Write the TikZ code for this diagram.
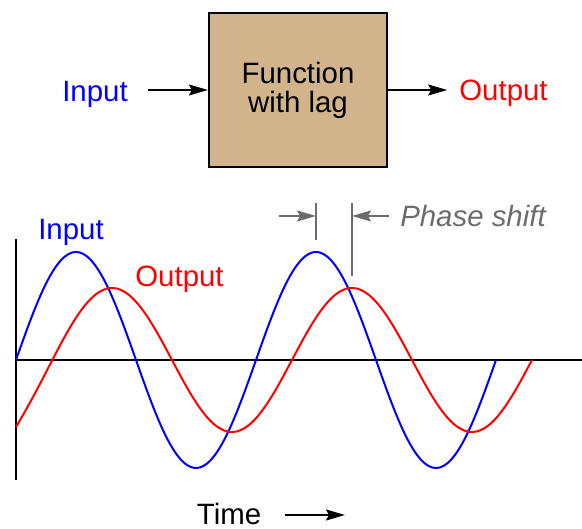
\documentclass[tikz,border=0pt]{standalone}
\usepackage{fontspec}
\setmainfont{Liberation Sans}
\usetikzlibrary{arrows.meta,positioning,calc}
\definecolor{boxtan}{RGB}{210,180,140}
\definecolor{shiftgray}{RGB}{108,108,108}

\begin{document}
\begin{tikzpicture}[x=1pt, y=1pt,
  lbl/.style={font=\fontsize{29.4}{29}\selectfont, inner sep=0pt, anchor=base},
  fnbox/.style={draw, line width=2.2pt, fill=boxtan, align=center, minimum width=178pt, minimum height=154pt, font=\fontsize{29.4}{29}\selectfont},
  flow/.style={-{Stealth[length=19pt, width=11pt, inset=3pt]}, line width=1.5pt},
  gflow/.style={flow, draw=shiftgray, fill=shiftgray},
  axis/.style={line width=2pt},
  wave/.style={line width=2pt, smooth, samples=160},
  tick/.style={line width=2pt, draw=shiftgray}]
\useasboundingbox (0,0) rectangle (582,529);
\node[fnbox] (fn) at (298,439) {Function\\with lag};
\node[lbl, text=blue] (in) at (95,427) {Input};
\node[lbl, text=red] (out) at (503.5,428) {Output};
\draw[flow, shorten <=20pt] (in.east |- fn.west) -- (fn.west);
\draw[flow, shorten >=12pt] (fn.east) -- (fn.east -| out.west);

\draw[axis] (16,290) -- (16,49);
\draw[axis] (16,169) -- (582,169);
\draw[blue, wave] plot[domain=16:496] (\x, {169+108*sin(1.5*(\x-16))});
\draw[red, wave] plot[domain=16:532] (\x, {169+72*sin(1.5*(\x-52))-9*exp(-(\x-16)/14)});
\node[lbl, text=blue] (win) at (71,289) {Input};
\node[lbl, text=red] (wout) at (179.5,242) {Output};

\coordinate (t1) at (316,313);
\coordinate (t2) at (352,313);
\draw[tick] ($(t1)+(0,13)$) -- ($(t1)+(0,-24)$);
\draw[tick] ($(t2)+(0,13)$) -- ($(t2)+(0,-60)$);
\node[lbl, text=shiftgray, font=\fontsize{29.4}{29}\selectfont\itshape] (ps) at (473,302) {Phase shift};
\draw[gflow] ($(t1)+(-37,0)$) -- (t1);
\draw[gflow, shorten <=11pt] (ps.west |- t2) -- (t2);

\node[lbl] (time) at (229,4) {Time};
\coordinate (tend) at (345,14);
\draw[flow, shorten <=24pt] (time.east |- tend) -- (tend);
\end{tikzpicture}
\end{document}
